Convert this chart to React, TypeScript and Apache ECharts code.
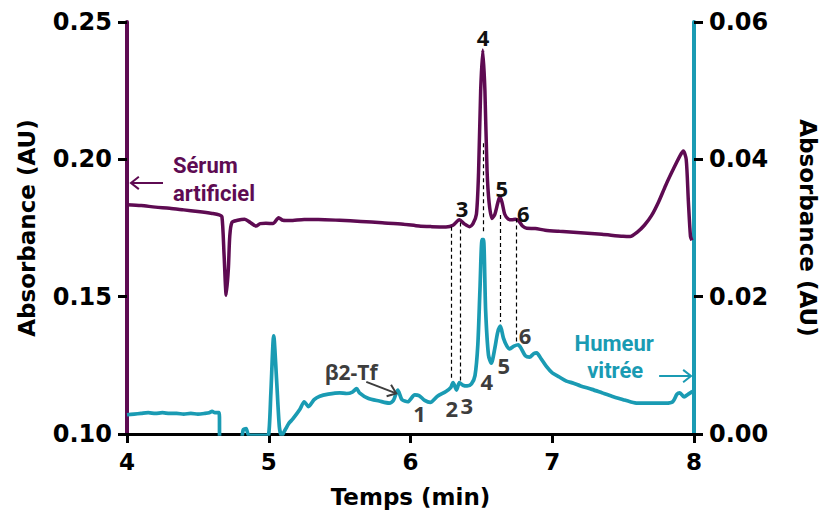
import React, { useEffect, useRef } from "react";
import * as echarts from "echarts";

// ---- Data (time in min, absorbance in AU) ----
const purpleTime = [
  4.0, 4.1, 4.2, 4.3, 4.4, 4.5, 4.6, 4.65, 4.67, 4.685, 4.7, 4.715, 4.725, 4.74, 4.78, 4.83, 4.87, 4.91, 4.94,
  4.98, 5.03, 5.07, 5.1, 5.15, 5.25, 5.35, 5.5, 5.65, 5.8, 5.95, 6.06, 6.15, 6.25, 6.3, 6.345, 6.38, 6.415,
  6.44, 6.465, 6.48, 6.495, 6.51, 6.525, 6.54, 6.555, 6.575, 6.595, 6.615, 6.63, 6.645, 6.665, 6.69, 6.715,
  6.74, 6.765, 6.79, 6.82, 6.88, 6.95, 7.05, 7.2, 7.35, 7.5, 7.55, 7.6, 7.65, 7.7, 7.75, 7.8, 7.85, 7.9,
  7.925, 7.945, 7.96, 7.975, 7.985,
];
const purpleAbs = [
  0.1835, 0.1832, 0.1826, 0.1822, 0.1816, 0.181, 0.1803, 0.1798, 0.179, 0.165, 0.1505, 0.16, 0.172, 0.177,
  0.1778, 0.1782, 0.177, 0.1757, 0.1766, 0.1767, 0.1766, 0.1787, 0.1778, 0.1777, 0.1781, 0.1781, 0.1778,
  0.1774, 0.1769, 0.1764, 0.1757, 0.1755, 0.1754, 0.176, 0.178, 0.1765, 0.1755, 0.1765, 0.18, 0.195, 0.225,
  0.2398, 0.225, 0.196, 0.184, 0.1785, 0.18, 0.184, 0.1864, 0.1845, 0.18, 0.1782, 0.178, 0.1782, 0.1775,
  0.1757, 0.1749, 0.1748, 0.1742, 0.1738, 0.1733, 0.1727, 0.172, 0.1719, 0.1735, 0.176, 0.1795, 0.1845,
  0.1905, 0.196, 0.2012, 0.203, 0.2, 0.185, 0.172, 0.1705,
];

const tealTime = [
  4.0, 4.05, 4.1, 4.15, 4.2, 4.25, 4.3, 4.35, 4.4, 4.45, 4.5, 4.55, 4.58, 4.6, 4.62, 4.65, 4.655, 4.8, 4.82,
  4.84, 4.86, 4.98, 5.0, 5.015, 5.035, 5.055, 5.075, 5.09, 5.1, 5.14, 5.17, 5.22, 5.25, 5.28, 5.32, 5.36,
  5.42, 5.5, 5.55, 5.59, 5.62, 5.64, 5.7, 5.78, 5.85, 5.88, 5.91, 5.94, 5.98, 6.03, 6.06, 6.1, 6.14, 6.19,
  6.25, 6.285, 6.3, 6.325, 6.345, 6.37, 6.4, 6.43, 6.455, 6.475, 6.49, 6.505, 6.515, 6.53, 6.55, 6.57,
  6.595, 6.615, 6.634, 6.655, 6.68, 6.7, 6.73, 6.76, 6.78, 6.81, 6.84, 6.87, 6.89, 6.92, 6.96, 7.0, 7.05,
  7.1, 7.15, 7.2, 7.28, 7.35, 7.42, 7.5, 7.55, 7.6, 7.7, 7.8, 7.85, 7.88, 7.9, 7.93, 7.96, 7.99,
];
const tealAbs = [
  0.0028, 0.0029, 0.003, 0.0031, 0.003, 0.0031, 0.003, 0.003, 0.0029, 0.003, 0.0029, 0.003, 0.0031, 0.0033,
  0.0031, 0.0031, -0.001, -0.001, 0.0006, 0.0008, -0.0002, -0.0002, 0.0, 0.006, 0.0143, 0.008, 0.001,
  -0.0002, 0.0, 0.0015, 0.0022, 0.0036, 0.0047, 0.004, 0.005, 0.0055, 0.0058, 0.006, 0.0059, 0.0061,
  0.0066, 0.006, 0.0052, 0.0048, 0.0045, 0.0049, 0.0064, 0.005, 0.0047, 0.0057, 0.0056, 0.0049, 0.0046,
  0.0055, 0.0062, 0.0068, 0.0075, 0.0064, 0.0075, 0.0071, 0.007, 0.0073, 0.0085, 0.013, 0.021, 0.0283,
  0.0283, 0.018, 0.0115, 0.0103, 0.0125, 0.0148, 0.0157, 0.014, 0.0128, 0.0124, 0.0128, 0.013, 0.0125,
  0.0114, 0.0112, 0.0117, 0.0118, 0.011, 0.0098, 0.0089, 0.0083, 0.0077, 0.0074, 0.007, 0.0065, 0.006,
  0.0055, 0.005, 0.0047, 0.0045, 0.0045, 0.0045, 0.0047, 0.0058, 0.006, 0.0054, 0.0058, 0.0062,
];

// Peak alignment lines: time, top and bottom (left-axis units)
const peakLineTime = [6.291, 6.352, 6.514, 6.634, 6.749];
const peakLineTop = [0.1755, 0.177, 0.2059, 0.1797, 0.1785];
const peakLineBottom = [0.1204, 0.1186, 0.1735, 0.1409, 0.133];

// Peak number labels
const serumPeakText = ["4", "3", "5", "6"];
const serumPeakTime = [6.511, 6.363, 6.644, 6.796];
const serumPeakAbs = [0.2444, 0.1821, 0.1897, 0.1805];
const humeurPeakText = ["1", "2", "3", "4", "5", "6"];
const humeurPeakTime = [6.063, 6.292, 6.398, 6.539, 6.658, 6.808];
const humeurPeakAbs = [0.1078, 0.1096, 0.1106, 0.1193, 0.1253, 0.1362];

const PURPLE = "#5e0b52";
const TEAL = "#1a9bb3";
const GRAY = "#3d3d3d";
const AXIS_FONT = "DejaVu Sans";
const NOTE_FONT = "Open Sans";

export default function App() {
  const ref = useRef<HTMLDivElement>(null);

  useEffect(() => {
    const chart = echarts.init(ref.current!, null, { renderer: "svg" });
    const zip = (a: number[], b: number[]) => a.map((t, i) => [t, b[i]]);

    const labelStyle = {
      color: "#000",
      fontFamily: AXIS_FONT,
      fontWeight: "bold" as const,
      fontSize: 23,
    };

    chart.setOption({
      animation: false,
      grid: { left: 127, right: 132, top: 22, bottom: 87, containLabel: false },
      xAxis: {
        type: "value",
        min: 4,
        max: 8,
        interval: 1,
        name: "Temps (min)",
        nameLocation: "middle",
        nameGap: 51,
        nameTextStyle: { ...labelStyle },
        axisLine: { onZero: false, lineStyle: { color: "#000", width: 3 } },
        axisTick: { length: 9, lineStyle: { color: "#000", width: 3 } },
        axisLabel: { ...labelStyle, margin: 16 },
        splitLine: { show: false },
      },
      yAxis: [
        {
          type: "value",
          position: "left",
          min: 0.1,
          max: 0.25,
          interval: 0.05,
          name: "Absorbance (AU)",
          nameLocation: "middle",
          nameGap: 89,
          nameTextStyle: { ...labelStyle },
          axisLine: { show: true, onZero: false, lineStyle: { color: PURPLE, width: 4 } },
          axisTick: { show: true, length: 9, lineStyle: { color: "#000", width: 3 } },
          axisLabel: { ...labelStyle, fontSize: 24, margin: 15, formatter: (v: number) => v.toFixed(2) },
          splitLine: { show: false },
        },
        {
          type: "value",
          position: "right",
          min: 0,
          max: 0.06,
          interval: 0.02,
          name: "Absorbance (AU)",
          nameLocation: "middle",
          nameGap: 102,
          nameRotate: -90,
          nameTextStyle: { ...labelStyle },
          axisLine: { show: true, onZero: false, lineStyle: { color: TEAL, width: 4 } },
          axisTick: { show: true, length: 9, lineStyle: { color: "#000", width: 3 } },
          axisLabel: { ...labelStyle, fontSize: 24, margin: 15, formatter: (v: number) => v.toFixed(2) },
          splitLine: { show: false },
        },
      ],
      series: [
        {
          name: "Sérum artificiel",
          type: "line",
          yAxisIndex: 0,
          data: zip(purpleTime, purpleAbs),
          showSymbol: false,
          symbol: "none",
          smooth: 0.25,
          lineStyle: { color: PURPLE, width: 3.5 },
          markLine: {
            silent: true,
            symbol: ["none", "none"],
            label: { show: false },
            lineStyle: { color: "#000", width: 1.2, type: [4, 3] },
            data: peakLineTime.map((t, i) => [
              { coord: [t, peakLineTop[i]] },
              { coord: [t, peakLineBottom[i]] },
            ]),
          },
        },
        {
          name: "Humeur vitrée",
          type: "line",
          yAxisIndex: 1,
          data: zip(tealTime, tealAbs),
          showSymbol: false,
          symbol: "none",
          smooth: 0.25,
          lineStyle: { color: TEAL, width: 3.7 },
        },
      ],
    });

    const px = (t: number, v: number) =>
      chart.convertToPixel({ xAxisIndex: 0, yAxisIndex: 0 }, [t, v]) as number[];

    const text = (
      str: string,
      p: number[],
      color: string,
      size: number,
      family: string,
      align: string = "center"
    ) => ({
      type: "text",
      x: p[0],
      y: p[1],
      z: 10,
      style: {
        text: str,
        fill: color,
        fontSize: size,
        fontWeight: 700,
        fontFamily: family,
        align,
        verticalAlign: "middle",
        textAlign: align,
        textVerticalAlign: "middle",
      },
    });

    const arrow = (p0: number[], p1: number[], color: string, width: number, head = 10) => {
      const dx = p1[0] - p0[0];
      const dy = p1[1] - p0[1];
      const L = Math.hypot(dx, dy);
      const ux = dx / L;
      const uy = dy / L;
      const a = (38 * Math.PI) / 180;
      const c = Math.cos(a);
      const s = Math.sin(a);
      const w1 = [p1[0] - head * (ux * c - uy * s), p1[1] - head * (uy * c + ux * s)];
      const w2 = [p1[0] - head * (ux * c + uy * s), p1[1] - head * (uy * c - ux * s)];
      return [
        {
          type: "line",
          z: 10,
          shape: { x1: p0[0], y1: p0[1], x2: p1[0], y2: p1[1] },
          style: { stroke: color, lineWidth: width },
        },
        {
          type: "polyline",
          z: 10,
          shape: { points: [w1, p1, w2] },
          style: { stroke: color, lineWidth: width, fill: null },
        },
      ];
    };

    const graphics: any[] = [];
    serumPeakText.forEach((s, i) =>
      graphics.push(text(s, px(serumPeakTime[i], serumPeakAbs[i]), "#111", 22, NOTE_FONT))
    );
    humeurPeakText.forEach((s, i) =>
      graphics.push(text(s, px(humeurPeakTime[i], humeurPeakAbs[i]), GRAY, 22, NOTE_FONT))
    );
    graphics.push(text("β2-Tf", px(5.581, 0.1226), GRAY, 21, NOTE_FONT));
    graphics.push(text("Sérum", px(4.324, 0.1976), PURPLE, 22, "Roboto", "left"));
    graphics.push(text("artificiel", px(4.324, 0.1877), PURPLE, 22, "Roboto", "left"));
    graphics.push(text("Humeur", px(7.437, 0.1331), TEAL, 22, "Roboto"));
    graphics.push(text("vitrée", px(7.444, 0.1233), TEAL, 22, "Roboto"));
    graphics.push(...arrow(px(4.254, 0.1914), px(4.028, 0.1914), PURPLE, 2));
    graphics.push(...arrow(px(7.754, 0.1211), px(7.979, 0.1211), TEAL, 2));
    graphics.push(...arrow(px(5.688, 0.119), px(5.899, 0.1148), GRAY, 2));

    chart.setOption({ graphic: graphics });

    return () => chart.dispose();
  }, []);

  return (
    <div
      ref={ref}
      style={{ position: "absolute", left: 0, top: 0, width: 827, height: 521 }}
    />
  );
}
